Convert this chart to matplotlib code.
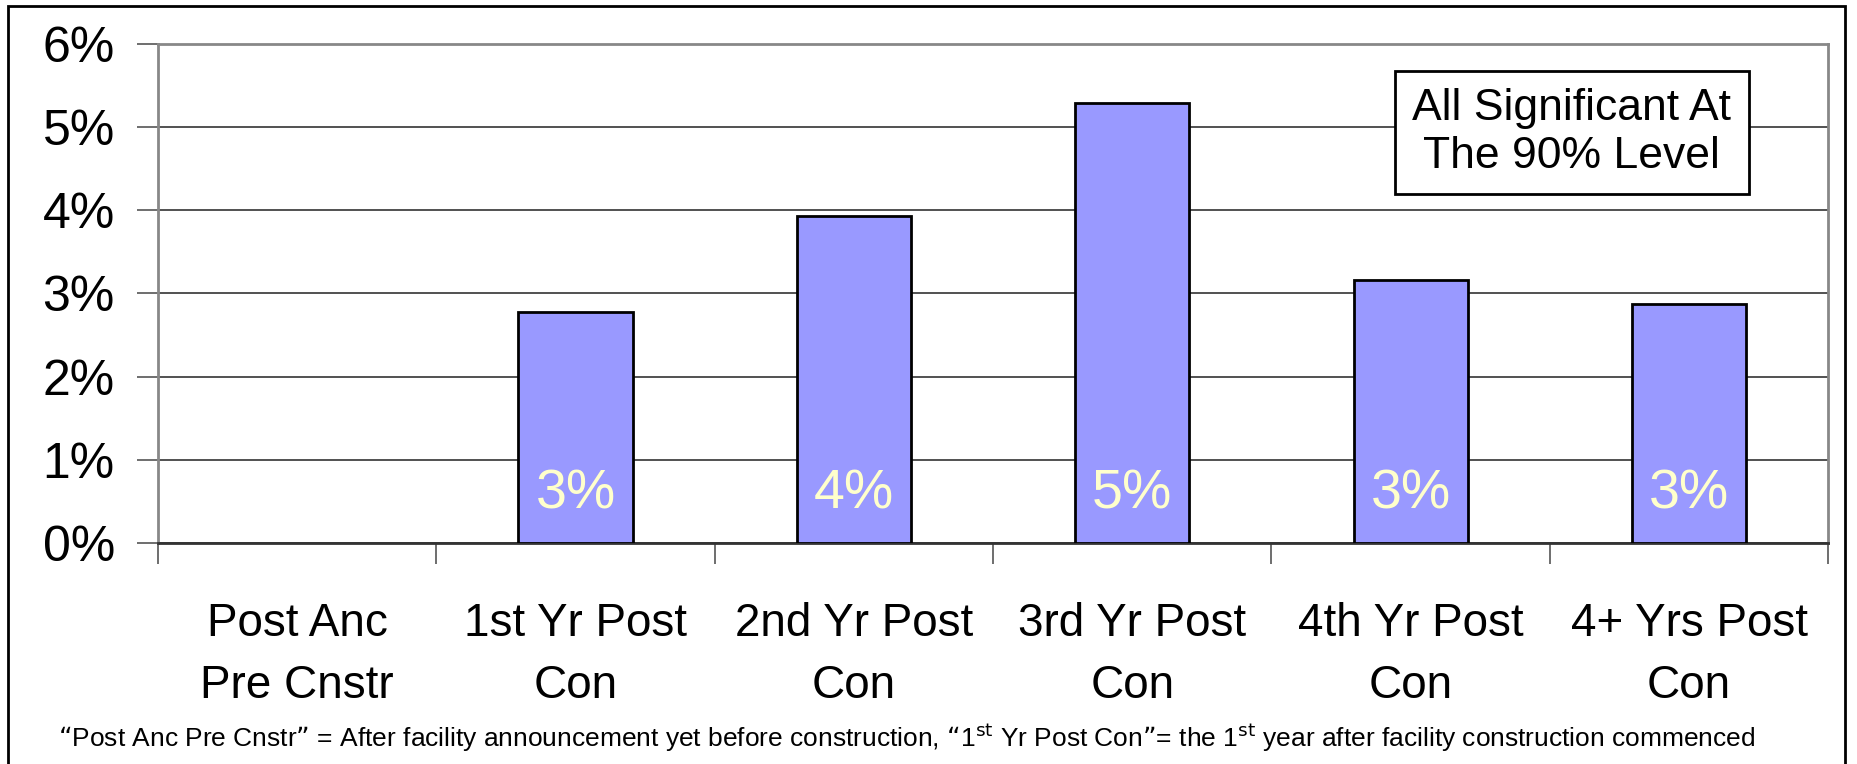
import numpy as np
import matplotlib
matplotlib.use("Agg")
import matplotlib.pyplot as plt
from matplotlib.patches import Rectangle

plt.rcParams['font.family'] = ['Liberation Sans', 'DejaVu Sans']

categories = ["Post Anc\nPre Cnstr", "1st Yr Post\nCon", "2nd Yr Post\nCon",
              "3rd Yr Post\nCon", "4th Yr Post\nCon", "4+ Yrs Post\nCon"]
values = [0.0, 2.78, 3.93, 5.29, 3.16, 2.87]
yticks = [0, 1, 2, 3, 4, 5, 6]

fig = plt.figure(figsize=(18.58, 7.64), dpi=100)
ax = fig.add_axes([0.085, 0.289, 0.899, 0.654])

# outer frame of the slide
fig.patches.append(Rectangle((8 / 1858, -0.05), (1845 - 8) / 1858, 1.05 - 6 / 764,
                             transform=fig.transFigure, fill=False,
                             edgecolor="black", linewidth=2))

x = np.arange(len(categories))
lws = [2 if v > 0 else 0 for v in values]
ax.bar(x, values, width=0.41, color="#9999FF", edgecolor="black",
       linewidth=lws, zorder=3)

for xi, v in zip(x, values):
    if v > 0:
        ax.text(xi, 0.42, f"{v:.0f}%", ha="center", va="baseline",
                fontsize=40, color="#FFFFCC", zorder=4)

ax.set_xlim(-0.5, len(categories) - 0.5)
ax.set_ylim(0, 6)
ax.set_yticks(yticks)
ax.set_yticklabels([f"{t}%" for t in yticks], fontsize=36)
ax.yaxis.grid(True, color="#333333", linewidth=1.2, zorder=0)

ax.set_xticks(np.arange(len(categories) + 1) - 0.5)
ax.set_xticklabels([])
ax.set_xticks(x, minor=True)
ax.set_xticklabels(categories, minor=True, fontsize=33, linespacing=1.55)
ax.tick_params(axis="x", which="major", length=15, width=1.2, color="#555555")
ax.tick_params(axis="x", which="minor", length=0, pad=42)
ax.tick_params(axis="y", length=15, width=1.2, color="#555555", pad=16)

for side in ["left", "right", "top"]:
    ax.spines[side].set_color("#888888")
    ax.spines[side].set_linewidth(2)
ax.spines["bottom"].set_color("#333333")
ax.spines["bottom"].set_linewidth(2)

ax.text(0.8465, 0.822, "All Significant At\nThe 90% Level", transform=ax.transAxes,
        ha="center", va="center", fontsize=32, linespacing=1.2, zorder=5,
        bbox=dict(boxstyle="square,pad=0.4", facecolor="white",
                  edgecolor="black", linewidth=2))

fig.text(0.488, 1 - 747 / 764,
         "\u201cPost Anc Pre Cnstr\u201d = After facility announcement yet before construction, "
         "\u201c1$^{\\mathrm{st}}$ Yr Post Con\u201d= the 1$^{\\mathrm{st}}$ year after facility construction commenced",
         ha="center", va="baseline", fontsize=19)

fig.savefig("out.png", dpi=100)
